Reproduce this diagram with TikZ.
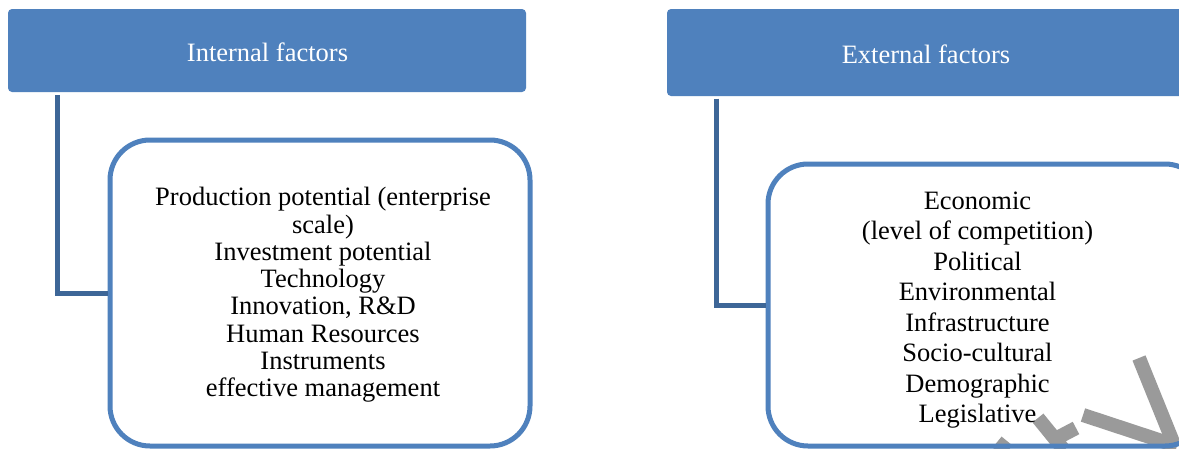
\documentclass[tikz,border=0pt]{standalone}
\usepackage{fontspec}
\setmainfont{Liberation Serif}
\definecolor{hdrblue}{HTML}{4F81BD}
\definecolor{connblue}{HTML}{3D6697}
\definecolor{wmgray}{HTML}{9A9A9A}
\tikzset{
  header/.style={fill=hdrblue, draw=none, rounded corners=4pt, text=white,
    font=\fontsize{26.5}{30}\selectfont, inner sep=0pt},
  itembox/.style={draw=hdrblue, line width=5pt, rounded corners=40pt, inner sep=0pt},
  itemtext/.style={align=center, inner sep=0pt, text=black},
  conn/.style={draw=connblue, line width=5pt},
  wm/.style={draw=wmgray, line width=14pt}
}
\begin{document}
\begin{tikzpicture}[x=1pt,y=-1pt]
\useasboundingbox (0,0) rectangle (1179,448);
\clip (0,0) rectangle (1179,448);
\fill[white] (0,0) rectangle (1179,448);
% watermark fragments
\draw[wm] (1139,358) -- (1173,442);
\draw[wm] (1083,415) -- (1177,446);
\draw[wm] (1038,418) -- (1064,450);
\draw[wm] (1057,438) -- (1076,428);
\draw[wm] (998,452) -- (1007,441);
% headers
\node[header, minimum width=518pt, minimum height=83pt] (hL) at (267,50.5) {};
\node[text=white, font=\fontsize{26.5}{30}\selectfont, inner sep=0pt] (tL) at (267.5,52) {Internal factors};
\node[header, minimum width=518pt, minimum height=87pt] (hR) at (926,52.5) {};
\node[text=white, font=\fontsize{26.5}{30}\selectfont, inner sep=0pt] (tR) at (926,54) {External factors};
% boxes
\node[itembox, minimum width=420pt, minimum height=306pt] (bL) at (320,293) {};
\node[itembox, minimum width=437pt, minimum height=282pt] (bR) at (986.5,305) {};
% texts
\node[itemtext, font=\fontsize{26.5}{27.3}\selectfont] (xL) at (323,295) {Production potential (enterprise\\scale)\\Investment potential\\Technology\\Innovation, R\&D\\Human Resources\\Instruments\\effective management};
\node[itemtext, font=\fontsize{26.5}{30.5}\selectfont] (xR) at (977.5,310) {Economic\\(level of competition)\\Political\\Environmental\\Infrastructure\\Socio-cultural\\Demographic\\Legislative};
% connectors
\coordinate (cL) at (57.5,95);
\coordinate (cR) at (716,98.5);
\draw[conn] (cL) |- (bL.west);
\draw[conn] (cR) |- (bR.west);
\end{tikzpicture}
\end{document}
